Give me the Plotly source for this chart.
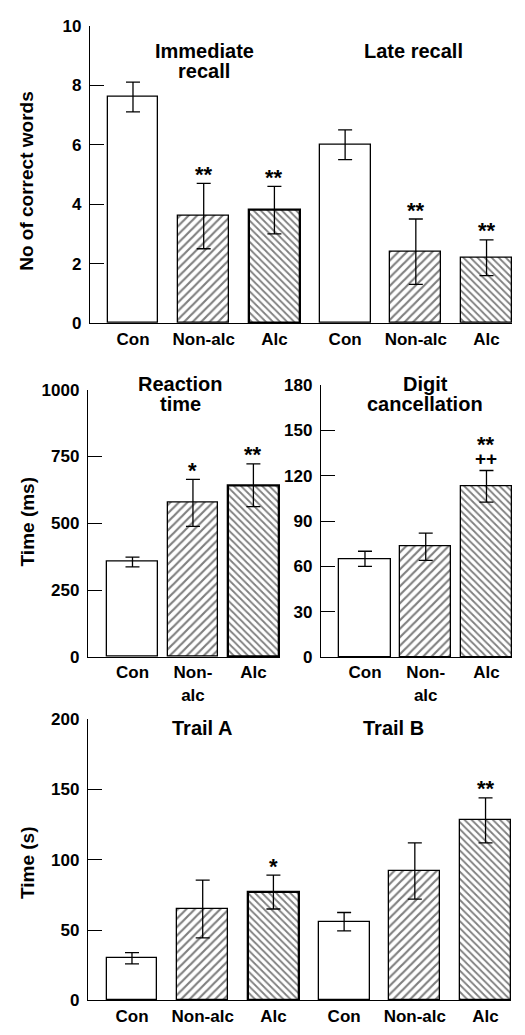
import plotly.graph_objects as go

# ---------------- data ----------------
groups = ["Con", "Non-alc", "Alc"]

recall_labels = ["Con", "Non-alc", "Alc", "Con", "Non-alc", "Alc"]
recall_means = [7.6, 3.6, 3.8, 6.0, 2.4, 2.2]
recall_err = [0.5, 1.1, 0.8, 0.5, 1.1, 0.6]
recall_sig = ["", "**", "**", "", "**", "**"]
recall_titles = ["Immediate", "recall", "Late recall"]

reaction_labels = ["Con", "Non-<br>alc", "Alc"]
reaction_means = [355, 576, 642]
reaction_err = [18, 88, 80]
reaction_sig = ["", "*", "**"]

digit_labels = ["Con", "Non-<br>alc", "Alc"]
digit_means = [65, 73, 113]
digit_err = [5, 9, 10.5]
digit_sig = ["", "", "**"]
digit_sig2 = ["", "", "++"]

trail_labels = ["Con", "Non-alc", "Alc", "Con", "Non-alc", "Alc"]
trail_means = [30, 65, 77, 56, 92, 128]
trail_err = [4, 20.5, 12, 6.5, 20, 16]
trail_sig = ["", "", "*", "", "", "**"]

# ---------------- style ----------------
W, H = 525, 1035
FONT = "Liberation Sans, Arial, Helvetica, sans-serif"
PAT = {"Con": "", "Non-alc": "/", "Alc": "\\"}
PAT_SIZE = {"Con": 6, "Non-alc": 6, "Alc": 5}


def fx(p):
    return p / W


def fy(p):
    return 1 - p / H


fig = go.Figure()


def add_panel(idx, labels, means, errs, thick, xdom, ydom, xrange, yrange, dtick, width):
    n = len(means)
    xs = list(range(n))
    grp = [groups[i % 3] for i in range(n)]
    xa = "x" if idx == 1 else f"x{idx}"
    ya = "y" if idx == 1 else f"y{idx}"
    fig.add_trace(go.Bar(
        x=xs, y=means, width=width,
        xaxis=xa, yaxis=ya,
        marker=dict(
            color="white",
            line=dict(color="black", width=[2.3 if i in thick else 1.3 for i in xs]),
            pattern=dict(shape=[PAT[g] for g in grp], size=[PAT_SIZE[g] for g in grp],
                         solidity=0.36, fgcolor="black", bgcolor="white", fillmode="overlay"),
        ),
        error_y=dict(type="data", array=errs, visible=True, color="black",
                     thickness=1.3, width=7),
        showlegend=False, hoverinfo="skip",
    ))
    kx = "xaxis" if idx == 1 else f"xaxis{idx}"
    ky = "yaxis" if idx == 1 else f"yaxis{idx}"
    fig.layout[kx] = dict(
        domain=[fx(xdom[0]), fx(xdom[1])], anchor=ya, range=xrange,
        tickmode="array", tickvals=xs, ticktext=labels, ticks="",
        showline=True, linecolor="black", linewidth=1.3, showgrid=False, zeroline=False,
        tickfont=dict(size=17, family=FONT, color="black", weight="bold"),
        fixedrange=True,
    )
    fig.layout[ky] = dict(
        domain=[fy(ydom[0]), fy(ydom[1])], anchor=xa, range=yrange,
        tickmode="linear", tick0=0, dtick=dtick, ticks="inside", ticklen=14,
        tickcolor="black", tickwidth=1.3,
        showline=True, linecolor="black", linewidth=1.3, showgrid=False, zeroline=False,
        tickfont=dict(size=17, family=FONT, color="black", weight="bold"),
        ticklabelstandoff=4, fixedrange=True,
    )
    return xa, ya


def sig_ann(xa, ya, means, errs, sig, shift, size=22):
    for i, s in enumerate(sig):
        if s:
            fig.add_annotation(x=i, y=means[i] + errs[i], xref=xa, yref=ya, text=s,
                               showarrow=False, yanchor="middle", yshift=shift,
                               font=dict(size=size, family=FONT, color="black", weight="bold"))


def title(text, px, py, size=20):
    fig.add_annotation(x=fx(px), y=fy(py), xref="paper", yref="paper", text=text,
                       showarrow=False, xanchor="center", yanchor="middle",
                       font=dict(size=size, family=FONT, color="black", weight="bold"))


def ytitle(text, px, py):
    fig.add_annotation(x=fx(px), y=fy(py), xref="paper", yref="paper", text=text,
                       showarrow=False, textangle=-90, xanchor="center", yanchor="middle",
                       font=dict(size=19, family=FONT, color="black", weight="bold"))


# Panel 1: recall
xa, ya = add_panel(1, recall_labels, recall_means, recall_err, [2],
                   (90, 512), (320, 17), [-0.608, 5.36], [0, 10], 2, 0.72)
sig_ann(xa, ya, recall_means, recall_err, recall_sig, 9)
title(recall_titles[0], 204, 43)
title(recall_titles[1], 204, 63)
title(recall_titles[2], 413, 43)
ytitle("No of correct words", 27, 176)

# Panel 2: reaction time
xa, ya = add_panel(2, reaction_labels, reaction_means, reaction_err, [2],
                   (88, 280), (660, 387.7), [-0.736, 2.44], [0, 1000], 250, 0.84)
sig_ann(xa, ya, reaction_means, reaction_err, reaction_sig, 9)
title("Reaction", 180, 382)
title("time", 180, 402)
ytitle("Time (ms)", 27, 523)

# Panel 3: digit cancellation
xa, ya = add_panel(3, digit_labels, digit_means, digit_err, [],
                   (321, 512), (660, 383.3), [-0.724, 2.42], [0, 180], 30, 0.84)
sig_ann(xa, ya, digit_means, digit_err, digit_sig, 26)
sig_ann(xa, ya, digit_means, digit_err, digit_sig2, 12, size=19)
title("Digit", 425, 382)
title("cancellation", 425, 402)

# Panel 4: trails
xa, ya = add_panel(4, trail_labels, trail_means, trail_err, [2],
                   (88, 511), (1010, 723.3), [-0.622, 5.36], [0, 200], 50, 0.72)
sig_ann(xa, ya, trail_means, trail_err, trail_sig, 9)
title("Trail A", 202, 732)
title("Trail B", 393, 732)
ytitle("Time (s)", 27, 870)

fig.update_layout(
    width=W, height=H, margin=dict(l=0, r=0, t=0, b=0),
    paper_bgcolor="white", plot_bgcolor="white",
    font=dict(family=FONT, color="black"),
    bargap=0, showlegend=False,
)

page_js = (
    "document.documentElement.style.margin='0';"
    "document.body.style.margin='0';"
    "document.body.style.overflow='hidden';"
)
fig.write_html("out.html", post_script=page_js, config={"displayModeBar": False})
